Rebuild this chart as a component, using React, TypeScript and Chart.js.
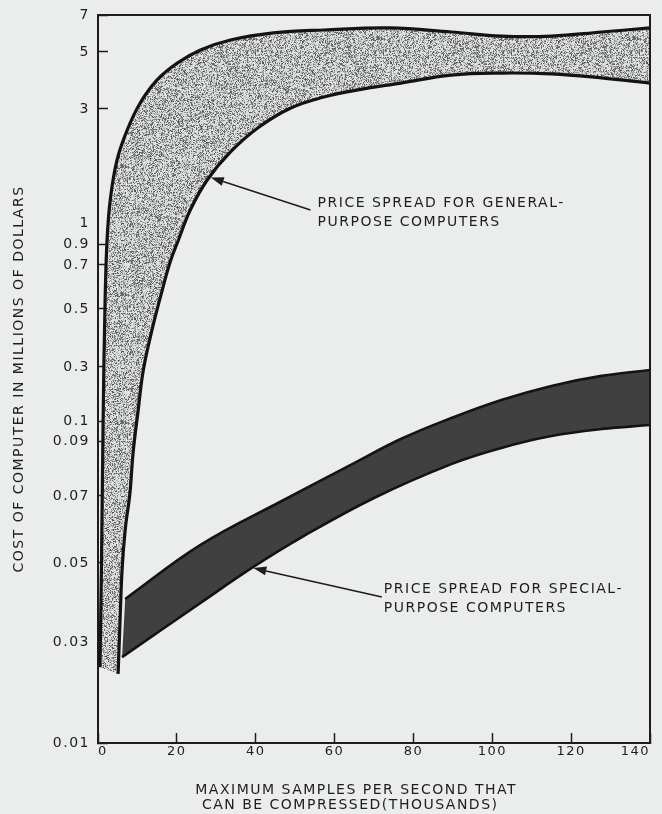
import React, { useEffect, useRef } from 'react';
import { Chart, registerables, LinearScale } from 'chart.js';

Chart.register(...registerables);

// ---------- axis definitions ----------
const X_MIN = 0;
const X_MAX = 140;
const X_STEP = 20;

const Y_TICK_VALUES = [0.01, 0.03, 0.05, 0.07, 0.09, 0.1, 0.3, 0.5, 0.7, 0.9, 1, 3, 5, 7];
const Y_TICK_LABELS = ['0.01', '0.03', '0.05', '0.07', '0.09', '0.1', '0.3', '0.5', '0.7', '0.9', '1', '3', '5', '7'];
// the original's hand-drawn value scale: where each tick value sits along the axis (0 = bottom, 1 = top)
const Y_TICK_FRACTIONS = [0, 0.1387, 0.2473, 0.3393, 0.4148, 0.4423, 0.5165, 0.5962, 0.6566, 0.6854, 0.7143, 0.8709, 0.9492, 1];

// ---------- data (x: thousands of samples/s, y: millions of dollars) ----------
const GENERAL_UPPER_X = [0.5, 0.9, 1.3, 1.8, 2.3, 3.1, 4.8, 7.4, 10.7, 15, 20.1, 26, 33.6, 44.5, 57.3, 74, 89.6, 102.3, 115, 127.7, 140];
const GENERAL_UPPER_Y = [0.025, 0.051, 0.104, 0.54, 0.92, 1.4, 2.1, 2.63, 3.21, 4.02, 4.61, 5.11, 5.65, 6.03, 6.19, 6.3, 6.08, 5.86, 5.86, 6.08, 6.3];
const GENERAL_LOWER_X = [5.1, 5.6, 6.1, 6.9, 8.1, 8.9, 10.2, 11.5, 13.7, 16.3, 18.3, 20.4, 23.4, 27.7, 33.6, 40.5, 48.9, 57.3, 65.9, 76.8, 89.6, 102.3, 115, 127.7, 140];
const GENERAL_LOWER_Y = [0.0237, 0.0356, 0.0482, 0.0599, 0.0711, 0.0857, 0.141, 0.289, 0.428, 0.586, 0.729, 0.919, 1.228, 1.754, 2.246, 2.667, 3.035, 3.42, 3.67, 3.91, 4.19, 4.26, 4.23, 4.09, 3.91];

const SPECIAL_UPPER_X = [6.9, 26, 47.1, 64.1, 76.8, 89.6, 102.3, 115, 127.7, 140];
const SPECIAL_UPPER_Y = [0.0409, 0.0554, 0.0688, 0.0813, 0.091, 0.111, 0.178, 0.23, 0.267, 0.289];
const SPECIAL_LOWER_X = [6.1, 26, 39.4, 51.4, 70, 89.6, 102.3, 115, 127.7, 140];
const SPECIAL_LOWER_Y = [0.027, 0.0399, 0.049, 0.0575, 0.0694, 0.0816, 0.0875, 0.0925, 0.096, 0.098];

// ---------- annotations ----------
const GENERAL_NOTE_LINES = ['PRICE SPREAD FOR GENERAL-', 'PURPOSE COMPUTERS'];
const GENERAL_NOTE_AT = [55.7, 1.351];
const GENERAL_ARROW_FROM = [53.9, 1.228];
const GENERAL_ARROW_TO = [28.6, 1.8];

const SPECIAL_NOTE_LINES = ['PRICE SPREAD FOR SPECIAL-', 'PURPOSE COMPUTERS'];
const SPECIAL_NOTE_AT = [72.5, 0.0432];
const SPECIAL_ARROW_FROM = [72.0, 0.0414];
const SPECIAL_ARROW_TO = [39.4, 0.0487];

const X_TITLE = ['MAXIMUM SAMPLES PER SECOND THAT      ', 'CAN BE COMPRESSED(THOUSANDS)        '];
const Y_TITLE = 'COST OF COMPUTER IN MILLIONS OF DOLLARS';

const PAPER = '#ebedec';
const INK = '#1d1d1d';
const FONT = '"DejaVu Sans", "Liberation Sans", sans-serif';

function valueToFraction(v: number): number {
  const vs = Y_TICK_VALUES, fs = Y_TICK_FRACTIONS;
  if (v <= vs[0]) return fs[0] + (v - vs[0]) * (fs[1] - fs[0]) / (vs[1] - vs[0]);
  for (let i = 1; i < vs.length; i++) {
    if (v <= vs[i]) {
      return fs[i - 1] + (v - vs[i - 1]) * (fs[i] - fs[i - 1]) / (vs[i] - vs[i - 1]);
    }
  }
  const n = vs.length - 1;
  return fs[n] + (v - vs[n]) * (fs[n] - fs[n - 1]) / (vs[n] - vs[n - 1]);
}

function fractionToValue(f: number): number {
  const vs = Y_TICK_VALUES, fs = Y_TICK_FRACTIONS;
  for (let i = 1; i < fs.length; i++) {
    if (f <= fs[i]) {
      return vs[i - 1] + (f - fs[i - 1]) * (vs[i] - vs[i - 1]) / (fs[i] - fs[i - 1]);
    }
  }
  return vs[vs.length - 1];
}

class PiecewiseScale extends (LinearScale as any) {
  static id = 'piecewise';
  static defaults = (LinearScale as any).defaults;
  buildTicks() {
    return Y_TICK_VALUES.map((v) => ({ value: v }));
  }
  getPixelForValue(value: number) {
    if (value === null || value === undefined || isNaN(value)) return NaN;
    return (this as any).getPixelForDecimal(valueToFraction(value));
  }
  getValueForPixel(pixel: number) {
    return fractionToValue((this as any).getDecimalForPixel(pixel));
  }
}
Chart.register(PiecewiseScale as any);

function hash(i: number, j: number): number {
  let h = (Math.imul(i, 374761393) + Math.imul(j, 668265263)) | 0;
  h = Math.imul(h ^ (h >>> 13), 1274126177);
  h = h ^ (h >>> 16);
  return (h >>> 0) / 4294967296;
}

function makeSpeckle(): any {
  const size = 128;
  const c = document.createElement('canvas');
  c.width = size;
  c.height = size;
  const g = c.getContext('2d');
  if (!g) return '#b8bab9';
  const img = g.createImageData(size, size);
  for (let j = 0; j < size; j++) {
    for (let i = 0; i < size; i++) {
      const h1 = hash(i, j);
      const h2 = hash(i + 977, j + 313);
      let v;
      if (h1 < 0.3) v = 75 + 70 * h2;
      else if (h1 < 0.5) v = 160 + 25 * h2;
      else v = 212 + 18 * h2;
      const k = (j * size + i) * 4;
      img.data[k] = v;
      img.data[k + 1] = v + 2;
      img.data[k + 2] = v + 1;
      img.data[k + 3] = 255;
    }
  }
  g.putImageData(img, 0, 0);
  return g.createPattern(c, 'repeat') || '#b8bab9';
}

function pts(xs: number[], ys: number[]) {
  return xs.map((x, i) => ({ x, y: ys[i] }));
}

// closed band outline: upper edge left->right, then lower edge right->left.
// The right-hand corner points are repeated so the smoothed outline keeps a sharp corner.
function shape(ux: number[], uy: number[], lx: number[], ly: number[]) {
  const upper = pts(ux, uy);
  const lower = pts(lx, ly).reverse();
  return [...upper, upper[upper.length - 1], lower[0], ...lower];
}

const letterSpacingPlugin = {
  id: 'letterSpacing',
  beforeDraw(chart: any) {
    chart.ctx.letterSpacing = '1.5px';
  },
};

const frameAndNotesPlugin = {
  id: 'frameAndNotes',
  afterDatasetsDraw(chart: any) {
    const { ctx, chartArea, scales } = chart;
    const xs = scales.x, ys = scales.y;
    ctx.save();
    // frame (top and right)
    ctx.strokeStyle = INK;
    ctx.lineWidth = 2;
    ctx.beginPath();
    ctx.moveTo(chartArea.left, chartArea.top);
    ctx.lineTo(chartArea.right, chartArea.top);
    ctx.lineTo(chartArea.right, chartArea.bottom);
    ctx.stroke();

    const drawNote = (lines: string[], at: number[], from: number[], to: number[]) => {
      const tx = xs.getPixelForValue(at[0]);
      const ty = ys.getPixelForValue(at[1]);
      ctx.fillStyle = INK;
      ctx.font = '14px ' + FONT;
      ctx.letterSpacing = '1.5px';
      ctx.textAlign = 'left';
      ctx.textBaseline = 'middle';
      lines.forEach((l, i) => ctx.fillText(l, tx, ty + i * 19));
      const fx = xs.getPixelForValue(from[0]);
      const fy = ys.getPixelForValue(from[1]);
      const px = xs.getPixelForValue(to[0]);
      const py = ys.getPixelForValue(to[1]);
      const ang = Math.atan2(py - fy, px - fx);
      const headLen = 13, headW = 4.5;
      const bx = px - headLen * Math.cos(ang);
      const by = py - headLen * Math.sin(ang);
      ctx.strokeStyle = INK;
      ctx.lineWidth = 1.6;
      ctx.beginPath();
      ctx.moveTo(fx, fy);
      ctx.lineTo(bx, by);
      ctx.stroke();
      ctx.beginPath();
      ctx.moveTo(px, py);
      ctx.lineTo(bx + headW * Math.sin(ang), by - headW * Math.cos(ang));
      ctx.lineTo(bx - headW * Math.sin(ang), by + headW * Math.cos(ang));
      ctx.closePath();
      ctx.fill();
    };
    drawNote(GENERAL_NOTE_LINES, GENERAL_NOTE_AT, GENERAL_ARROW_FROM, GENERAL_ARROW_TO);
    drawNote(SPECIAL_NOTE_LINES, SPECIAL_NOTE_AT, SPECIAL_ARROW_FROM, SPECIAL_ARROW_TO);
    ctx.restore();
  },
};

export default function App() {
  const ref = useRef<HTMLCanvasElement>(null);

  useEffect(() => {
    const canvas = ref.current;
    if (!canvas) return;
    const speckle = makeSpeckle();
    const lineCommon = {
      fill: false,
      pointRadius: 0,
      pointHoverRadius: 0,
      tension: 0.4,
      borderColor: '#131313',
    };
    const chart = new Chart(canvas, {
      type: 'line',
      data: {
        datasets: [
          { ...lineCommon, label: 'General-purpose (high)', data: pts(GENERAL_UPPER_X, GENERAL_UPPER_Y), borderWidth: 3.2 },
          { ...lineCommon, label: 'General-purpose (low)', data: pts(GENERAL_LOWER_X, GENERAL_LOWER_Y), borderWidth: 3.2 },
          { ...lineCommon, label: 'Special-purpose (high)', data: pts(SPECIAL_UPPER_X, SPECIAL_UPPER_Y), borderWidth: 2.6 },
          { ...lineCommon, label: 'Special-purpose (low)', data: pts(SPECIAL_LOWER_X, SPECIAL_LOWER_Y), borderWidth: 2.6 },
          {
            label: 'General-purpose spread',
            data: shape(GENERAL_UPPER_X, GENERAL_UPPER_Y, GENERAL_LOWER_X, GENERAL_LOWER_Y),
            fill: 'shape',
            backgroundColor: speckle,
            borderWidth: 0,
            borderColor: 'rgba(0,0,0,0)',
            pointRadius: 0,
            tension: 0.4,
          },
          {
            label: 'Special-purpose spread',
            data: shape(SPECIAL_UPPER_X, SPECIAL_UPPER_Y, SPECIAL_LOWER_X, SPECIAL_LOWER_Y),
            fill: 'shape',
            backgroundColor: '#404040',
            borderWidth: 0,
            borderColor: 'rgba(0,0,0,0)',
            pointRadius: 0,
            tension: 0.4,
          },
        ],
      },
      options: {
        responsive: false,
        animation: false,
        devicePixelRatio: 1,
        font: { family: FONT },
        layout: { padding: { top: 15, right: 12, left: 0, bottom: 0 } },
        plugins: {
          legend: { display: false },
          tooltip: { enabled: false },
        },
        scales: {
          x: {
            type: 'linear',
            min: X_MIN,
            max: X_MAX,
            afterFit: (s: any) => {
              s.height = 71;
              s.paddingLeft = 0;
              s.paddingRight = 0;
            },
            ticks: {
              stepSize: X_STEP,
              padding: 11,
              align: 'inner',
              color: INK,
              font: { family: FONT, size: 13 },
              maxRotation: 0,
              autoSkip: false,
            },
            grid: {
              drawOnChartArea: false,
              drawTicks: true,
              tickLength: -10,
              tickColor: INK,
              tickWidth: 1.5,
            },
            border: { display: true, color: INK, width: 2 },
            title: {
              display: true,
              text: X_TITLE,
              color: INK,
              font: { family: FONT, size: 14, lineHeight: 1.1 },
              padding: { top: 0, bottom: 1 },
            },
          },
          y: {
            type: 'piecewise' as any,
            min: 0.01,
            max: 7,
            afterFit: (s: any) => {
              s.width = 98;
              s.paddingTop = 0;
              s.paddingBottom = 0;
            },
            ticks: {
              callback: (_v: any, i: number) => Y_TICK_LABELS[i],
              padding: 18,
              color: INK,
              font: { family: FONT, size: 14 },
              autoSkip: false,
            },
            grid: {
              drawOnChartArea: false,
              drawTicks: true,
              tickLength: -10,
              tickColor: (c: any) => (c.tick && c.tick.value === 1 ? 'rgba(0,0,0,0)' : INK),
              tickWidth: 1.5,
            },
            border: { display: true, color: INK, width: 2 },
            title: {
              display: true,
              text: Y_TITLE,
              color: INK,
              font: { family: FONT, size: 14, lineHeight: 1.1 },
              padding: { top: 12, bottom: 0 },
            },
          },
        },
      } as any,
      plugins: [letterSpacingPlugin, frameAndNotesPlugin],
    } as any);
    return () => chart.destroy();
  }, []);

  return (
    <div style={{ position: 'fixed', left: 0, top: 0, width: 662, height: 814, background: PAPER }}>
      <canvas ref={ref} width={662} height={814} style={{ display: 'block', width: 662, height: 814 }} />
    </div>
  );
}
